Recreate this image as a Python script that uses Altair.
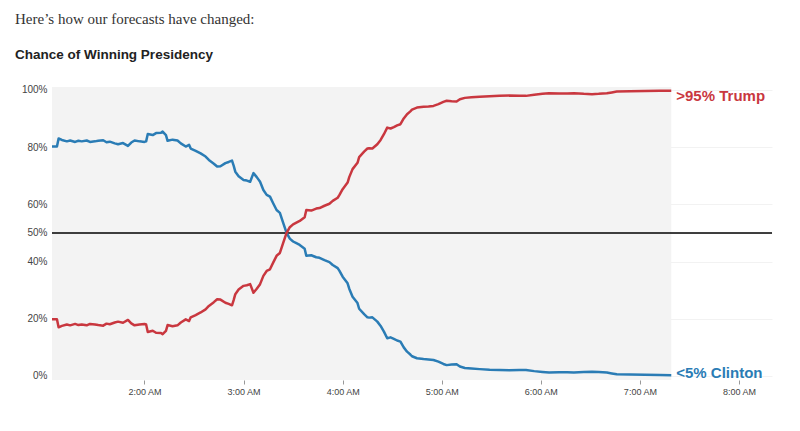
import altair as alt
import pandas as pd

# ---- data ----
times = ["1:04","1:07","1:08","1:10","1:13","1:15","1:18","1:20","1:22","1:25",
         "1:27","1:30","1:32","1:35","1:37","1:39","1:42","1:44","1:47","1:50",
         "1:52","1:54","1:57","2:00","2:01","2:02","2:05","2:07","2:10","2:11",
         "2:13","2:14","2:17","2:20","2:22","2:25","2:27","2:28","2:31","2:34",
         "2:37","2:39","2:42","2:44","2:46","2:49","2:51","2:53","2:54","2:55",
         "2:57","3:00","3:02","3:04","3:06","3:08","3:10","3:12","3:14","3:16",
         "3:18","3:20","3:22","3:24","3:26","3:28","3:30","3:32","3:34","3:37",
         "3:38","3:41","3:44","3:46","3:49","3:52","3:54","3:57","3:58","4:00",
         "4:03","4:04","4:06","4:09","4:10","4:13","4:15","4:16","4:18","4:21",
         "4:23","4:25","4:27","4:29","4:31","4:33","4:35","4:37","4:39","4:41",
         "4:42","4:45","4:49","4:52","4:55","4:58","5:01","5:03","5:06","5:09",
         "5:11","5:14","5:18","5:23","5:29","5:35","5:41","5:47","5:51","5:56",
         "6:01","6:05","6:11","6:16","6:20","6:26","6:31","6:35","6:40","6:43",
         "6:46","6:54","7:03","7:12","7:19"]

clinton = [80.2,80.2,83.0,82.5,82.0,82.3,81.8,82.2,82.0,82.3,
           81.8,82.0,82.2,82.4,81.7,81.9,81.3,81.0,81.4,80.4,
           81.6,82.3,82.0,81.8,82.0,84.6,84.2,84.9,85.0,85.4,
           84.2,82.2,82.6,82.3,81.3,80.2,80.8,79.5,78.7,77.8,
           76.7,75.5,74.2,73.2,73.3,74.4,74.8,75.3,73.5,71.4,
           69.8,68.5,68.3,67.9,70.9,69.5,67.9,65.0,63.3,62.7,
           60.3,58.0,57.0,53.5,50.1,48.0,47.0,46.4,45.8,44.5,
           42.0,42.2,41.5,41.3,40.5,39.8,38.8,37.7,36.8,34.7,
           32.4,30.5,27.7,25.5,23.5,21.6,20.5,20.4,20.5,19.0,
           17.5,15.5,13.2,13.5,13.0,12.4,12.0,10.0,8.5,7.5,
           6.9,6.2,5.9,5.8,5.6,5.0,4.2,3.8,4.0,4.1,
           3.3,2.8,2.6,2.4,2.2,2.1,2.0,2.1,2.1,1.7,
           1.4,1.2,1.3,1.3,1.2,1.4,1.5,1.4,1.2,0.9,
           0.6,0.5,0.4,0.35,0.3]

trump = [19.8,19.8,17.0,17.5,18.0,17.7,18.2,17.8,18.0,17.7,
         18.2,18.0,17.8,17.6,18.3,18.1,18.7,19.0,18.6,19.6,
         18.4,17.7,18.0,18.2,18.0,15.4,15.8,15.1,15.0,14.6,
         15.8,17.8,17.4,17.7,18.7,19.8,19.2,20.5,21.3,22.2,
         23.3,24.5,25.8,26.8,26.7,25.6,25.2,24.7,26.5,28.6,
         30.2,31.5,31.7,32.1,29.1,30.5,32.1,35.0,36.7,37.3,
         39.7,42.0,43.0,46.5,49.9,52.0,53.0,53.6,54.2,55.5,
         58.0,57.8,58.5,58.7,59.5,60.2,61.2,62.3,63.2,65.3,
         67.6,69.5,72.3,74.5,76.5,78.4,79.5,79.6,79.5,81.0,
         82.5,84.5,86.8,86.5,87.0,87.6,88.0,90.0,91.5,92.5,
         93.1,93.8,94.1,94.2,94.4,95.0,95.8,96.2,96.0,95.9,
         96.7,97.2,97.4,97.6,97.8,97.9,98.0,97.9,97.9,98.3,
         98.6,98.8,98.7,98.7,98.8,98.6,98.5,98.6,98.8,99.1,
         99.4,99.5,99.6,99.65,99.7]

series_names = ["Clinton", "Trump"]
end_labels = ["<5% Clinton", ">95% Trump"]
colors = ["#2a7cb5", "#c9373f"]
y_ticks = [0, 20, 40, 50, 60, 80, 100]
x_ticks = [120, 180, 240, 300, 360, 420, 480]
x_tick_labels = ["2:00 AM", "3:00 AM", "4:00 AM", "5:00 AM", "6:00 AM", "7:00 AM", "8:00 AM"]

# ---- tables built from the arrays ----
def to_min(t):
    h, m = t.split(":")
    return int(h) * 60 + int(m)

mins = [to_min(t) for t in times]
df = pd.DataFrame({
    "t": mins * 2,
    "pct": clinton + trump,
    "who": ["Clinton"] * len(mins) + ["Trump"] * len(mins),
})

X_DOMAIN = [64, 500]
Y_DOMAIN = [-1.4, 101]

bg = pd.DataFrame({"t": [mins[0]], "t1": [mins[-1]], "pct": [Y_DOMAIN[0]], "y1": [Y_DOMAIN[1]]})
ends = pd.DataFrame({
    "t": [mins[-1], mins[-1]],
    "pct": [clinton[-1], trump[-1]],
    "who": series_names,
    "label": end_labels,
})
half_df = pd.DataFrame({"pct": [50]})

label_expr = "{" + ",".join(f"'{v}':'{l}'" for v, l in zip(x_ticks, x_tick_labels)) + "}[datum.value]"

xs = alt.Scale(domain=X_DOMAIN, nice=False, zero=False)
ys = alt.Scale(domain=Y_DOMAIN, nice=False, zero=False)
color_scale = alt.Scale(domain=series_names, range=colors)

x_axis = alt.Axis(values=x_ticks, labelExpr=label_expr, grid=False, domain=False,
                  ticks=True, tickSize=4, tickColor="#999", tickWidth=1,
                  labelFontSize=9, labelColor="#444", labelFont="Liberation Sans",
                  labelPadding=3, title=None)
y_axis = alt.Axis(values=y_ticks, labelExpr="datum.value + '%'", domain=False, ticks=False,
                  grid=True, gridColor="#f2f2f2", gridWidth=1,
                  labelFontSize=10, labelColor="#444", labelFont="Liberation Sans",
                  labelPadding=5, title=None)

X = alt.X("t:Q", scale=xs, axis=x_axis)
Y = alt.Y("pct:Q", scale=ys, axis=y_axis)

background = alt.Chart(bg).mark_rect(color="#f3f3f3").encode(x=X, x2="t1:Q", y=Y, y2="y1:Q")

half = alt.Chart(half_df).mark_rule(color="#000", strokeWidth=1.5).encode(y=Y)

lines = alt.Chart(df).mark_line(strokeWidth=2.5, strokeJoin="round").encode(
    x=X, y=Y,
    color=alt.Color("who:N", scale=color_scale, legend=None),
)

trump_lbl = alt.Chart(ends[ends.who == "Trump"]).mark_text(
    align="left", baseline="middle", dx=5, dy=5, fontSize=15, fontWeight="bold", font="Liberation Sans"
).encode(x=X, y=Y, text="label:N",
         color=alt.Color("who:N", scale=color_scale, legend=None))

clinton_lbl = alt.Chart(ends[ends.who == "Clinton"]).mark_text(
    align="left", baseline="middle", dx=5, dy=-2, fontSize=15, fontWeight="bold", font="Liberation Sans"
).encode(x=X, y=Y, text="label:N",
         color=alt.Color("who:N", scale=color_scale, legend=None))

chart = alt.layer(background, half, lines, trump_lbl, clinton_lbl).properties(
    width=720, height=293,
    autosize=alt.AutoSizeParams(type="none"),
    padding={"left": 44, "top": 79, "right": 20, "bottom": 40},
    title=alt.TitleParams(
        text="Here’s how our forecasts have changed:",
        subtitle="Chance of Winning Presidency",
        anchor="start", frame="group", dx=-37, offset=23,
        font="Liberation Serif", fontSize=15, fontWeight="normal", color="#333",
        subtitleFont="Liberation Sans", subtitleFontSize=13.5, subtitleFontWeight="bold",
        subtitleColor="#222", subtitlePadding=21,
    ),
).configure(background="white").configure_view(stroke=None)

chart.save("out.html", embed_options={"renderer": "svg", "actions": False})
